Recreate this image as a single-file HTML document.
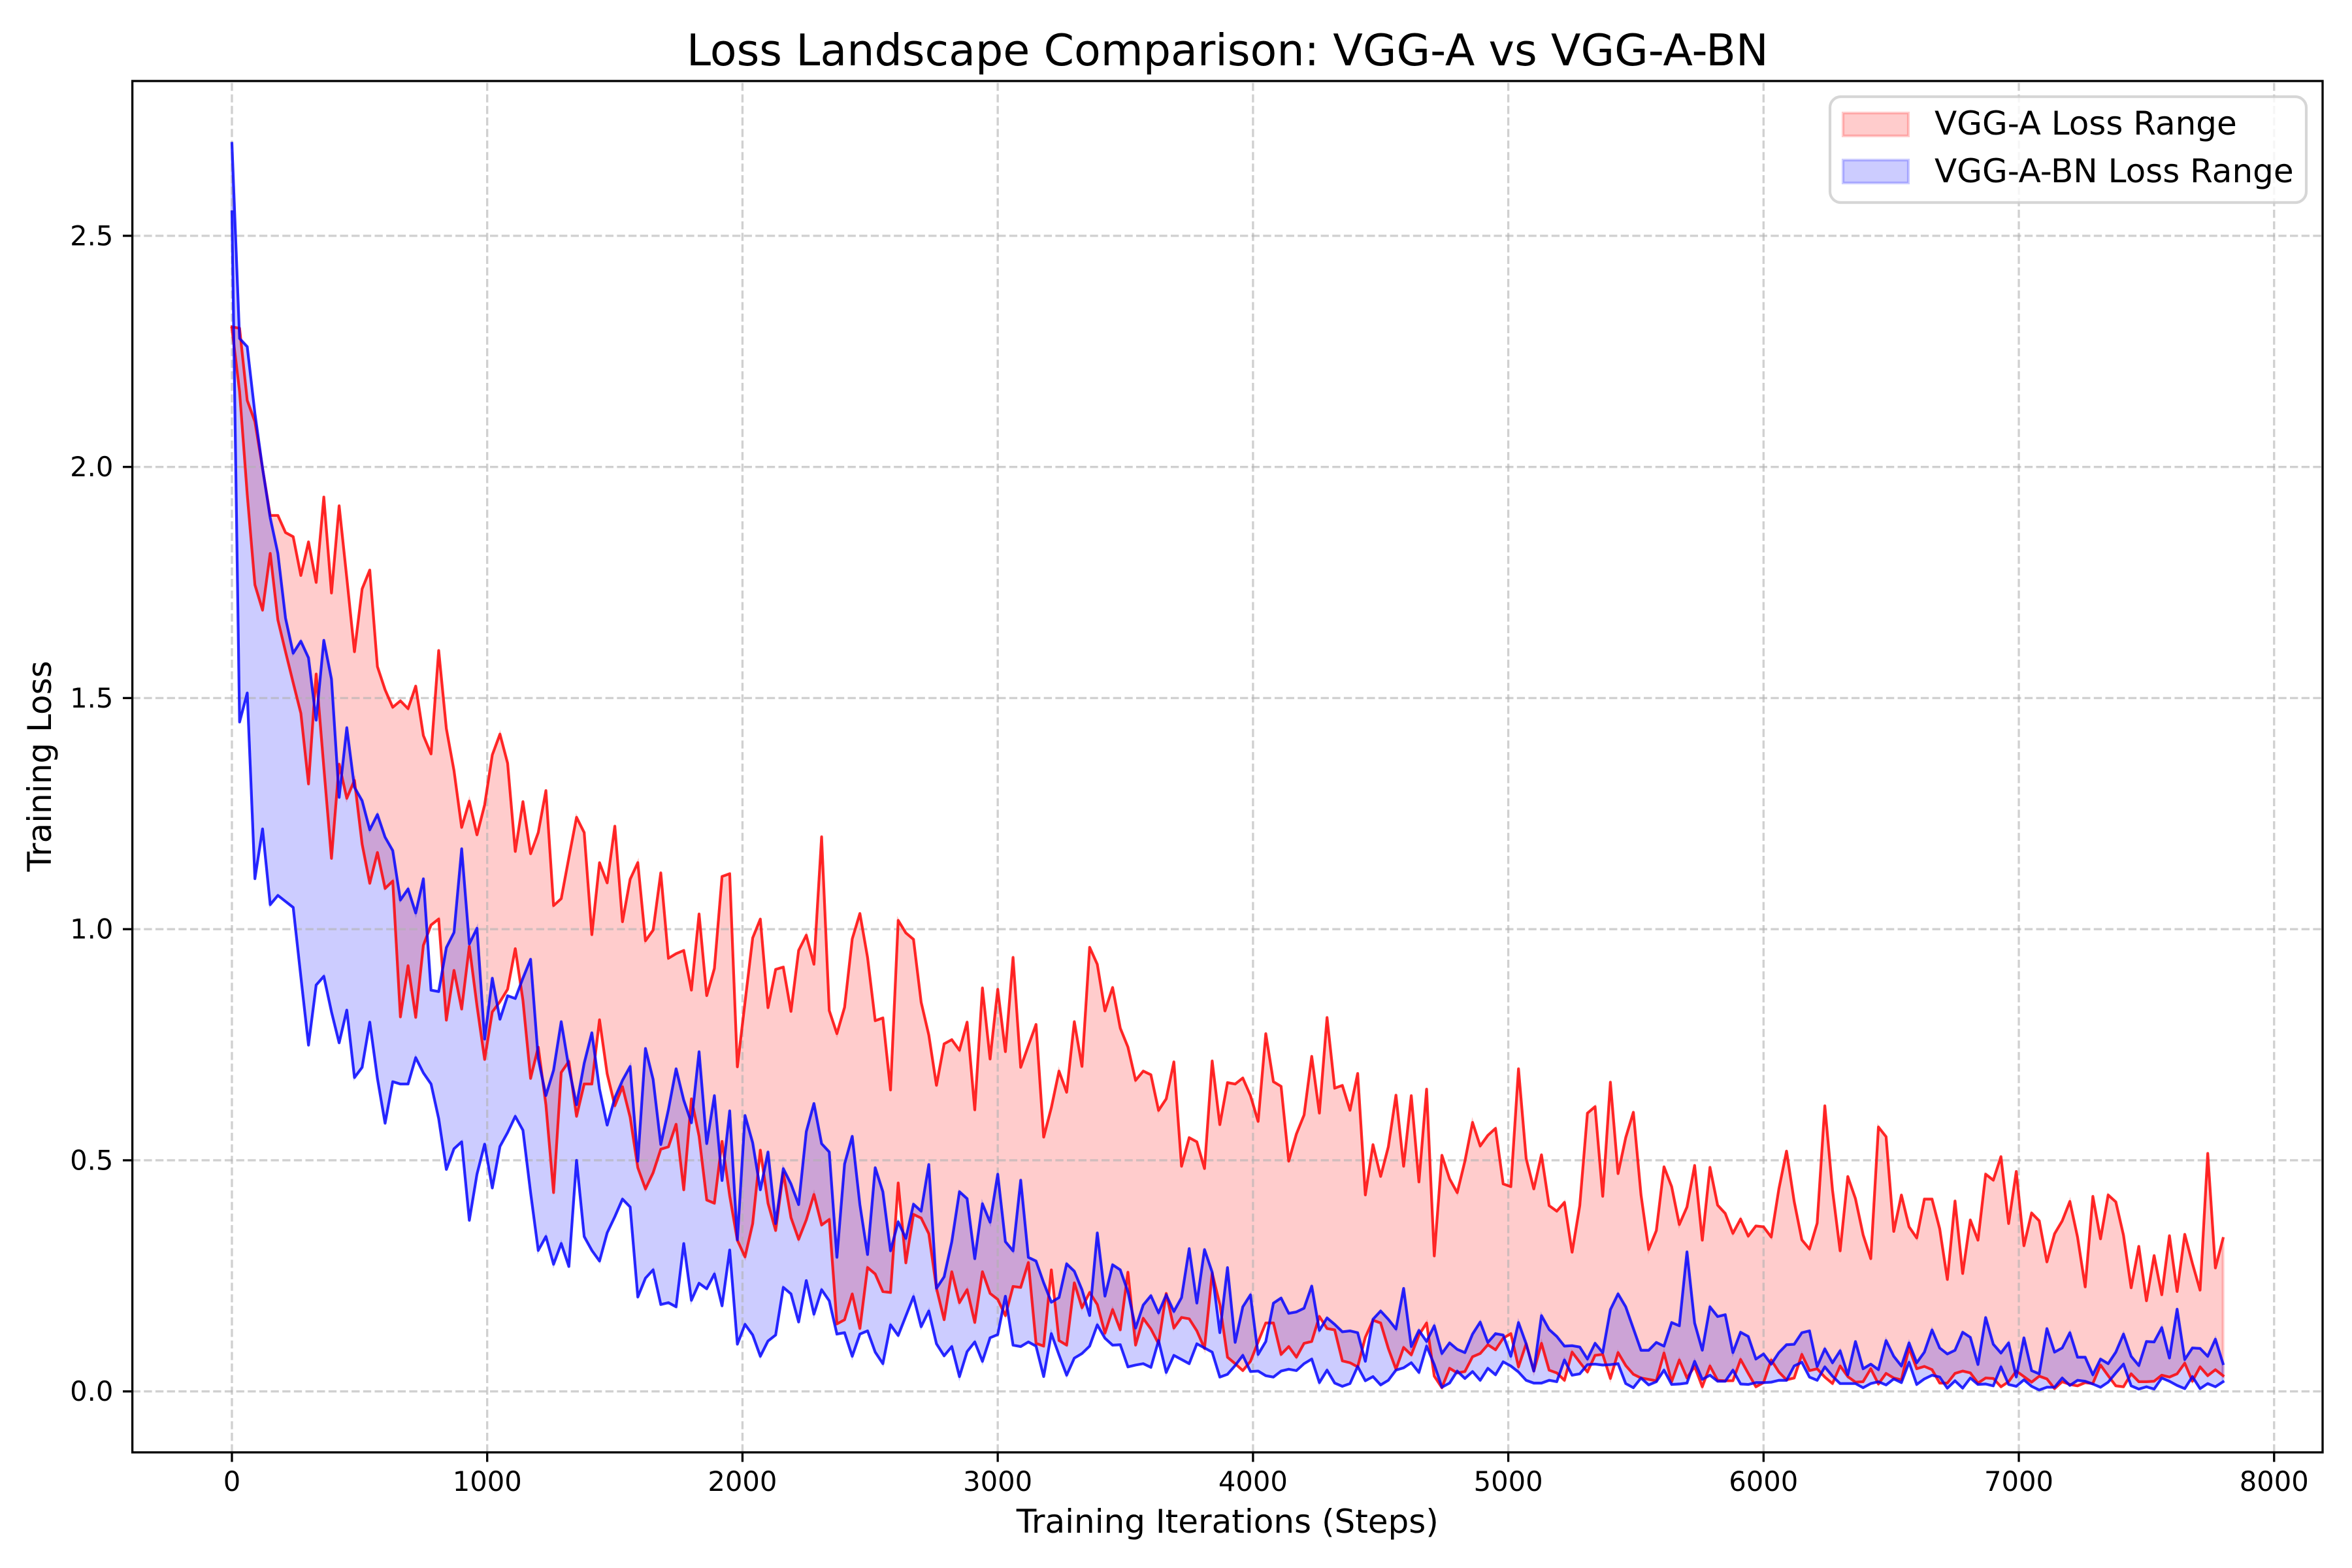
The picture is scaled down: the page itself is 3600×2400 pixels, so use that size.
<!DOCTYPE html>
<html lang="en">
<head>
<meta charset="utf-8">
<title>Loss Landscape Comparison: VGG-A vs VGG-A-BN</title>
<style>
html,body{margin:0;padding:0;background:#fff;}
svg{display:block;}
text{font-family:"DejaVu Sans","Liberation Sans",sans-serif;fill:#000;}
</style>
</head>
<body>
<svg id="chart" xmlns="http://www.w3.org/2000/svg" width="3600" height="2400" viewBox="0 0 3600 2400">
  <rect x="0" y="0" width="3600" height="2400" fill="#ffffff"/>
  <g id="fills"></g>
  <g id="grid"></g>
  <g id="lines"></g>
  <rect id="frame" fill="none" stroke="#000" stroke-width="3.33"/>
  <g id="ticks"></g>
  <text x="1878.8" y="100" text-anchor="middle" font-size="66.67">Loss Landscape Comparison: VGG-A vs VGG-A-BN</text>
  <text x="1878.8" y="2346" text-anchor="middle" font-size="50">Training Iterations (Steps)</text>
  <text transform="translate(78 1172.7) rotate(-90)" text-anchor="middle" font-size="50">Training Loss</text>
  <g>
    <rect x="2801" y="148" width="729" height="162" rx="16.7" ry="16.7" fill="#ffffff" fill-opacity="0.8" stroke="#cccccc" stroke-opacity="0.8" stroke-width="4.17"/>
    <rect x="2821" y="173" width="100" height="35" fill="#ff0000" fill-opacity="0.2" stroke="#ff0000" stroke-opacity="0.2" stroke-width="4.17"/>
    <text x="2961" y="206" font-size="50">VGG-A Loss Range</text>
    <rect x="2821" y="245" width="100" height="35" fill="#0000ff" fill-opacity="0.2" stroke="#0000ff" stroke-opacity="0.2" stroke-width="4.17"/>
    <text x="2961" y="279" font-size="50">VGG-A-BN Loss Range</text>
  </g>
</svg>
<script>
const steps = [
0,30,60,90,120,150,180,210,240,270,300,330,360,390,420,450,480,510,540,570,
600,630,660,690,720,750,780,810,840,870,900,930,960,990,1020,1050,1080,1110,1140,1170,
1200,1230,1260,1290,1320,1350,1380,1410,1440,1470,1500,1530,1560,1590,1620,1650,1680,1710,1740,1770,
1800,1830,1860,1890,1920,1950,1980,2010,2040,2070,2100,2130,2160,2190,2220,2250,2280,2310,2340,2370,
2400,2430,2460,2490,2520,2550,2580,2610,2640,2670,2700,2730,2760,2790,2820,2850,2880,2910,2940,2970,
3000,3030,3060,3090,3120,3150,3180,3210,3240,3270,3300,3330,3360,3390,3420,3450,3480,3510,3540,3570,
3600,3630,3660,3690,3720,3750,3780,3810,3840,3870,3900,3930,3960,3990,4020,4050,4080,4110,4140,4170,
4200,4230,4260,4290,4320,4350,4380,4410,4440,4470,4500,4530,4560,4590,4620,4650,4680,4710,4740,4770,
4800,4830,4860,4890,4920,4950,4980,5010,5040,5070,5100,5130,5160,5190,5220,5250,5280,5310,5340,5370,
5400,5430,5460,5490,5520,5550,5580,5610,5640,5670,5700,5730,5760,5790,5820,5850,5880,5910,5940,5970,
6000,6030,6060,6090,6120,6150,6180,6210,6240,6270,6300,6330,6360,6390,6420,6450,6480,6510,6540,6570,
6600,6630,6660,6690,6720,6750,6780,6810,6840,6870,6900,6930,6960,6990,7020,7050,7080,7110,7140,7170,
7200,7230,7260,7290,7320,7350,7380,7410,7440,7470,7500,7530,7560,7590,7620,7650,7680,7710,7740,7770,
7800];
const vggAMax = [
2.303,2.30,2.144,2.098,1.997,1.895,1.895,1.858,1.849,1.765,
1.838,1.75,1.935,1.727,1.916,1.76,1.60,1.736,1.777,1.568,
1.518,1.48,1.494,1.477,1.526,1.419,1.379,1.603,1.434,1.343,
1.22,1.277,1.204,1.269,1.377,1.422,1.359,1.168,1.276,1.163,
1.209,1.30,1.051,1.066,1.155,1.242,1.209,.988,1.144,1.10,
1.223,1.016,1.108,1.144,.975,.998,1.122,.937,.947,.954,
.868,1.033,.856,.915,1.114,1.12,.702,.842,.981,1.022,
.83,.913,.918,.822,.954,.987,.924,1.20,.824,.774,
.831,.979,1.034,.939,.802,.808,.652,1.019,.992,.978,
.842,.771,.662,.752,.761,.738,.799,.609,.873,.719,
.870,.735,.939,.701,.748,.794,.55,.614,.693,.647,
.80,.703,.961,.924,.823,.874,.786,.745,.673,.693,
.685,.608,.633,.713,.487,.549,.54,.482,.715,.577,
.668,.665,.678,.64,.584,.774,.67,.66,.498,.557,
.598,.725,.602,.809,.656,.662,.608,.688,.425,.534,
.465,.529,.641,.487,.64,.453,.654,.293,.511,.46,
.43,.498,.582,.531,.554,.569,.449,.443,.698,.504,
.438,.512,.402,.39,.409,.301,.402,.602,.616,.422,
.669,.471,.549,.604,.425,.307,.348,.486,.443,.361,
.399,.489,.327,.485,.403,.385,.342,.373,.336,.358,
.356,.334,.438,.52,.411,.328,.308,.364,.618,.436,
.304,.465,.417,.339,.287,.572,.551,.346,.425,.356,
.332,.416,.416,.352,.242,.412,.255,.371,.327,.47,
.457,.508,.363,.476,.315,.386,.369,.28,.341,.369,
.411,.334,.226,.422,.33,.425,.41,.338,.224,.314,
.196,.294,.209,.337,.216,.34,.277,.219,.515,.267,
.331];
const vggAMin = [
2.30,2.163,1.94,1.745,1.69,1.813,1.669,1.60,1.533,1.467,
1.314,1.552,1.35,1.153,1.357,1.283,1.322,1.184,1.099,1.166,
1.088,1.104,.81,.921,.809,.965,1.009,1.022,.803,.911,
.827,.963,.834,.718,.821,.843,.87,.958,.846,.677,
.745,.62,.43,.69,.714,.595,.665,.665,.804,.687,
.618,.659,.593,.484,.438,.473,.524,.529,.578,.436,
.633,.552,.414,.407,.541,.423,.327,.291,.363,.522,
.407,.348,.473,.376,.329,.371,.426,.36,.372,.146,
.155,.211,.136,.268,.254,.216,.214,.451,.278,.383,
.375,.341,.223,.155,.259,.192,.22,.149,.259,.212,
.199,.164,.227,.225,.279,.104,.098,.263,.11,.10,
.235,.181,.214,.188,.126,.177,.133,.258,.10,.158,
.135,.103,.212,.137,.16,.157,.131,.093,.256,.188,
.074,.06,.045,.065,.107,.148,.148,.08,.097,.074,
.104,.108,.162,.136,.133,.066,.062,.053,.117,.154,
.148,.093,.048,.095,.079,.122,.148,.033,.008,.05,
.04,.043,.075,.082,.101,.09,.115,.125,.053,.103,
.044,.104,.046,.04,.024,.085,.063,.042,.078,.08,
.028,.084,.056,.037,.029,.026,.023,.083,.021,.068,
.029,.054,.01,.055,.024,.023,.023,.069,.039,.01,
.019,.068,.042,.025,.029,.08,.045,.049,.031,.017,
.055,.032,.02,.021,.049,.016,.039,.029,.025,.094,
.049,.054,.047,.018,.018,.039,.044,.04,.018,.029,
.028,.01,.021,.044,.032,.02,.033,.027,.006,.021,
.015,.012,.019,.017,.057,.034,.012,.01,.038,.021,
.021,.022,.035,.031,.038,.061,.022,.053,.034,.047,
.034];
const vggBnMax = [
2.70,2.278,2.26,2.116,1.997,1.89,1.813,1.673,1.597,1.623,
1.587,1.452,1.625,1.541,1.285,1.436,1.307,1.278,1.215,1.248,
1.199,1.17,1.063,1.087,1.035,1.109,.868,.865,.96,.993,
1.174,.968,1.002,.762,.894,.805,.856,.85,.894,.935,
.72,.64,.695,.80,.70,.62,.71,.776,.654,.576,
.635,.673,.703,.498,.742,.675,.534,.61,.698,.63,
.581,.735,.536,.64,.456,.607,.328,.597,.538,.436,
.518,.363,.482,.449,.404,.562,.623,.536,.518,.29,
.492,.552,.404,.296,.484,.432,.304,.367,.331,.405,
.39,.491,.223,.248,.324,.432,.417,.287,.406,.366,
.47,.324,.304,.457,.29,.282,.235,.193,.203,.276,
.26,.22,.164,.343,.206,.274,.263,.216,.137,.187,
.207,.17,.209,.173,.203,.309,.191,.307,.258,.127,
.268,.106,.183,.209,.08,.108,.191,.202,.169,.172,
.18,.228,.132,.159,.145,.129,.131,.127,.065,.156,
.174,.156,.135,.223,.097,.132,.108,.142,.082,.105,
.091,.084,.124,.15,.106,.125,.122,.076,.149,.103,
.044,.164,.134,.119,.098,.099,.096,.07,.104,.084,
.177,.211,.183,.136,.089,.089,.106,.098,.149,.142,
.302,.148,.089,.183,.162,.166,.084,.128,.119,.07,
.081,.059,.084,.101,.102,.127,.131,.054,.092,.062,
.088,.036,.108,.049,.059,.047,.11,.076,.055,.105,
.062,.085,.133,.094,.081,.089,.128,.117,.058,.16,
.102,.083,.105,.031,.116,.045,.038,.136,.085,.094,
.127,.074,.074,.036,.07,.06,.085,.124,.076,.056,
.108,.107,.138,.072,.178,.069,.094,.093,.076,.113,
.06];
const vggBnMin = [
2.552,1.448,1.511,1.109,1.217,1.053,1.073,1.06,1.047,.897,
.749,.879,.898,.821,.754,.825,.679,.701,.799,.677,
.58,.67,.665,.665,.722,.689,.665,.59,.48,.525,
.54,.37,.47,.535,.44,.53,.56,.595,.565,.43,
.305,.335,.275,.32,.27,.50,.335,.305,.282,.343,
.378,.416,.399,.204,.245,.263,.188,.192,.183,.32,
.197,.234,.222,.254,.185,.306,.102,.145,.122,.076,
.109,.122,.225,.211,.15,.24,.167,.22,.196,.124,
.127,.076,.124,.131,.085,.06,.144,.121,.163,.205,
.14,.174,.103,.077,.097,.032,.086,.107,.065,.116,
.123,.206,.10,.097,.107,.098,.032,.125,.079,.035,
.072,.082,.098,.144,.115,.10,.101,.053,.057,.06,
.052,.11,.041,.078,.069,.06,.103,.094,.085,.031,
.037,.056,.078,.043,.044,.034,.031,.044,.048,.045,
.06,.07,.019,.046,.018,.011,.017,.054,.023,.032,
.014,.024,.046,.051,.062,.041,.098,.058,.009,.018,
.044,.028,.043,.024,.05,.036,.064,.055,.042,.024,
.018,.018,.024,.021,.068,.035,.038,.058,.059,.057,
.058,.06,.017,.008,.029,.014,.021,.046,.015,.016,
.018,.065,.026,.035,.022,.022,.046,.016,.015,.019,
.019,.02,.024,.024,.055,.063,.031,.024,.053,.033,
.017,.017,.017,.008,.017,.021,.014,.027,.019,.063,
.015,.027,.035,.031,.007,.023,.007,.029,.015,.016,
.012,.053,.015,.011,.025,.011,.003,.009,.009,.029,
.013,.024,.022,.016,.009,.02,.04,.059,.012,.005,
.01,.005,.029,.022,.013,.006,.032,.006,.017,.01,
.021];
const xTickValues = [0,1000,2000,3000,4000,5000,6000,7000,8000];
const xTickLabels = ["0","1000","2000","3000","4000","5000","6000","7000","8000"];
const yTickValues = [0,0.5,1,1.5,2,2.5];
const yTickLabels = ["0.0","0.5","1.0","1.5","2.0","2.5"];

const SVG_NS = "http://www.w3.org/2000/svg";
const axesBox = {left: 202.6, right: 3555, top: 124, bottom: 2223};

function extent(arrays) {
  const flat = [].concat.apply([], arrays);
  return [Math.min.apply(null, flat), Math.max.apply(null, flat)];
}
const xExtent = extent([steps]);
const yExtent = extent([vggAMax, vggAMin, vggBnMax, vggBnMin]);
const xPad = (xExtent[1] - xExtent[0]) * 0.05;
const yPad = (yExtent[1] - yExtent[0]) * 0.05;
const xDomain = [xExtent[0] - xPad, xExtent[1] + xPad];
const yDomain = [yExtent[0] - yPad, yExtent[1] + yPad];

function xScale(v) {
  return axesBox.left + (v - xDomain[0]) / (xDomain[1] - xDomain[0]) * (axesBox.right - axesBox.left);
}
function yScale(v) {
  return axesBox.bottom - (v - yDomain[0]) / (yDomain[1] - yDomain[0]) * (axesBox.bottom - axesBox.top);
}
function make(tag, attrs) {
  const el = document.createElementNS(SVG_NS, tag);
  Object.keys(attrs).forEach(function (k) { el.setAttribute(k, attrs[k]); });
  return el;
}
function linePath(xs, ys) {
  return xs.map(function (x, i) {
    return (i ? "L" : "M") + xScale(x).toFixed(2) + " " + yScale(ys[i]).toFixed(2);
  }).join("");
}
function areaPath(xs, upper, lower) {
  const top = linePath(xs, upper);
  let back = "";
  for (let i = xs.length - 1; i >= 0; i--) {
    back += "L" + xScale(xs[i]).toFixed(2) + " " + yScale(lower[i]).toFixed(2);
  }
  return top + back + "Z";
}

const frame = document.getElementById("frame");
frame.setAttribute("x", axesBox.left);
frame.setAttribute("y", axesBox.top);
frame.setAttribute("width", axesBox.right - axesBox.left);
frame.setAttribute("height", axesBox.bottom - axesBox.top);

const fills = document.getElementById("fills");
const vggAArea = make("path", {d: areaPath(steps, vggAMax, vggAMin), fill: "#ff0000", "fill-opacity": 0.2, stroke: "#ff0000", "stroke-opacity": 0.2, "stroke-width": 4.17, "stroke-linejoin": "miter"});


fills.appendChild(vggAArea);
const vggBnArea = make("path", {d: areaPath(steps, vggBnMax, vggBnMin), fill: "#0000ff", "fill-opacity": 0.2, stroke: "#0000ff", "stroke-opacity": 0.2, "stroke-width": 4.17, "stroke-linejoin": "miter"});


fills.appendChild(vggBnArea);

const grid = document.getElementById("grid");
const gridStyle = {fill: "none", stroke: "#b0b0b0", "stroke-opacity": 0.6, "stroke-width": 3.33, "stroke-dasharray": "12.33 5.33"};
xTickValues.forEach(function (v) {
  const x = xScale(v).toFixed(2);
  const gl = make("path", Object.assign({d: "M" + x + " " + axesBox.bottom + "V" + axesBox.top}, gridStyle));
  
  
  grid.appendChild(gl);
});
yTickValues.forEach(function (v) {
  const y = yScale(v).toFixed(2);
  const gl = make("path", Object.assign({d: "M" + axesBox.left + " " + y + "H" + axesBox.right}, gridStyle));
  
  
  grid.appendChild(gl);
});

const lines = document.getElementById("lines");
const lineStyle = {fill: "none", "stroke-opacity": 0.8, "stroke-width": 4.17, "stroke-linejoin": "round", "stroke-linecap": "square"};
const vggAMaxLine = make("path", Object.assign({d: linePath(steps, vggAMax), stroke: "#ff0000"}, lineStyle));


lines.appendChild(vggAMaxLine);
const vggAMinLine = make("path", Object.assign({d: linePath(steps, vggAMin), stroke: "#ff0000"}, lineStyle));


lines.appendChild(vggAMinLine);
const vggBnMaxLine = make("path", Object.assign({d: linePath(steps, vggBnMax), stroke: "#0000ff"}, lineStyle));


lines.appendChild(vggBnMaxLine);
const vggBnMinLine = make("path", Object.assign({d: linePath(steps, vggBnMin), stroke: "#0000ff"}, lineStyle));


lines.appendChild(vggBnMinLine);

const ticks = document.getElementById("ticks");
xTickValues.forEach(function (v, i) {
  const x = xScale(v);
  const mark = make("line", {x1: x, x2: x, y1: axesBox.bottom, y2: axesBox.bottom + 14.6, stroke: "#000", "stroke-width": 3.33});
  
  
  ticks.appendChild(mark);
  const label = make("text", {x: x, y: 2282, "text-anchor": "middle", "font-size": 41.67});
  
  
  label.textContent = xTickLabels[i];
  ticks.appendChild(label);
});
yTickValues.forEach(function (v, i) {
  const y = yScale(v);
  const mark = make("line", {x1: axesBox.left - 14.6, x2: axesBox.left, y1: y, y2: y, stroke: "#000", "stroke-width": 3.33});
  
  
  ticks.appendChild(mark);
  const label = make("text", {x: axesBox.left - 29.2, y: y + 14.5, "text-anchor": "end", "font-size": 41.67});
  
  
  label.textContent = yTickLabels[i];
  ticks.appendChild(label);
});
</script>
</body>
</html>
